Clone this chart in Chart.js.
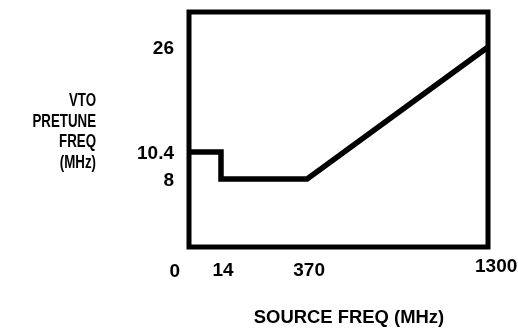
<!DOCTYPE html>
<html>
<head>
<meta charset="utf-8">
<script src="https://cdn.jsdelivr.net/npm/chart.js@4/dist/chart.umd.min.js"></script>
<style>
  html, body { margin: 0; padding: 0; background: #fff; }
  #wrap { width: 518px; height: 334px; }
</style>
</head>
<body>
<div id="wrap"><canvas id="c" width="518" height="334"></canvas></div>
<script>
// ---- data ----
const xTickValues = [0, 14, 370, 1300];
const yTickValues = [8, 10.4, 26];
const sourceFreq = [0, 14, 14, 370, 1300];
const pretuneFreq = [10.4, 10.4, 8, 8, 26];
const yTitleLines = ['VTO', 'PRETUNE', 'FREQ', '(MHz)'];
const xTitle = 'SOURCE FREQ (MHz)';

// ---- schematic (non-linear) axis layout: value -> fraction of axis length ----
const scaleBreaks = {
  x: [[0, 0], [14, 0.107], [370, 0.395], [1300, 1]],
  y: [[0, 0], [8, 0.289], [10.4, 0.404], [26, 0.851], [30, 1]]
};
function toFrac(b, v) {
  if (v <= b[0][0]) return b[0][1];
  for (let i = 1; i < b.length; i++) {
    if (v <= b[i][0]) {
      const [v0, f0] = b[i - 1], [v1, f1] = b[i];
      return f0 + (v - v0) / (v1 - v0) * (f1 - f0);
    }
  }
  return b[b.length - 1][1];
}
function fromFrac(b, f) {
  if (f <= b[0][1]) return b[0][0];
  for (let i = 1; i < b.length; i++) {
    if (f <= b[i][1]) {
      const [v0, f0] = b[i - 1], [v1, f1] = b[i];
      return v0 + (f - f0) / (f1 - f0) * (v1 - v0);
    }
  }
  return b[b.length - 1][0];
}
class PiecewiseScale extends Chart.LinearScale {
  getPixelForValue(v) { return this.getPixelForDecimal(toFrac(scaleBreaks[this.id], v)); }
  getValueForPixel(p) { return fromFrac(scaleBreaks[this.id], this.getDecimalForPixel(p)); }
}
PiecewiseScale.id = 'piecewise';
PiecewiseScale.defaults = {};
Chart.register(PiecewiseScale);

const FONT = '"Liberation Sans", Arial, sans-serif';

function noPad(s) { s.paddingTop = 0; s.paddingBottom = 0; s.paddingLeft = 0; s.paddingRight = 0; }

const decor = {
  id: 'decor',
  afterDraw(chart) {
    const { ctx, chartArea: a } = chart;
    const xs = chart.scales.x;
    ctx.save();
    // frame
    ctx.strokeStyle = '#000';
    ctx.lineWidth = 5;
    ctx.lineJoin = 'miter';
    ctx.strokeRect(a.left, a.top, a.right - a.left, a.bottom - a.top);
    // x tick labels
    ctx.fillStyle = '#000';
    ctx.font = 'bold 19px ' + FONT;
    ctx.textBaseline = 'middle';
    xTickValues.forEach((v, i) => {
      const px = xs.getPixelForValue(v);
      if (i === 0) { ctx.textAlign = 'right'; ctx.fillText(String(v), px - 9, 272); }
      else if (i === xTickValues.length - 1) { ctx.textAlign = 'left'; ctx.fillText(String(v), px - 13, 267); }
      else { ctx.textAlign = 'center'; ctx.fillText(String(v), px + 2, 271); }
    });
    // x title
    ctx.textAlign = 'center';
    ctx.font = 'bold 19px ' + FONT;
    ctx.save();
    ctx.translate(349, 318);
    ctx.scale(0.97, 1);
    ctx.fillText(xTitle, 0, 0);
    ctx.restore();
    // y title (horizontal, right aligned, condensed lettering)
    ctx.textAlign = 'right';
    ctx.font = 'bold 19px ' + FONT;
    yTitleLines.forEach((t, i) => {
      ctx.save();
      ctx.translate(96, 101 + i * 20.5);
      ctx.scale(0.7, 1);
      ctx.fillText(t, 0, 0);
      ctx.restore();
    });
    ctx.restore();
  }
};

new Chart(document.getElementById('c'), {
  type: 'line',
  data: {
    datasets: [{
      data: sourceFreq.map((x, i) => ({ x, y: pretuneFreq[i] })),
      borderColor: '#000',
      borderWidth: 5.5,
      borderJoinStyle: 'miter',
      borderCapStyle: 'butt',
      pointRadius: 0,
      tension: 0,
      fill: false
    }]
  },
  options: {
    responsive: false,
    animation: false,
    devicePixelRatio: 1,
    layout: { padding: { left: 0, top: 12, right: 30, bottom: 0 } },
    plugins: { legend: { display: false }, tooltip: { enabled: false } },
    scales: {
      x: {
        type: 'piecewise', min: 0, max: 1300,
        grid: { display: false }, border: { display: false },
        ticks: { display: false },
        afterBuildTicks: s => { s.ticks = xTickValues.map(v => ({ value: v })); },
        afterFit: s => { s.height = 87; noPad(s); }
      },
      y: {
        type: 'piecewise', min: 0, max: 30,
        grid: { display: false }, border: { display: false },
        afterBuildTicks: s => { s.ticks = yTickValues.map(v => ({ value: v })); },
        afterFit: s => { s.width = 189; noPad(s); },
        ticks: {
          autoSkip: false, padding: 7, labelOffset: 2, color: '#000',
          font: { family: FONT, size: 19, weight: 'bold' },
          callback: v => String(v)
        }
      }
    }
  },
  plugins: [decor]
});
</script>
</body>
</html>
